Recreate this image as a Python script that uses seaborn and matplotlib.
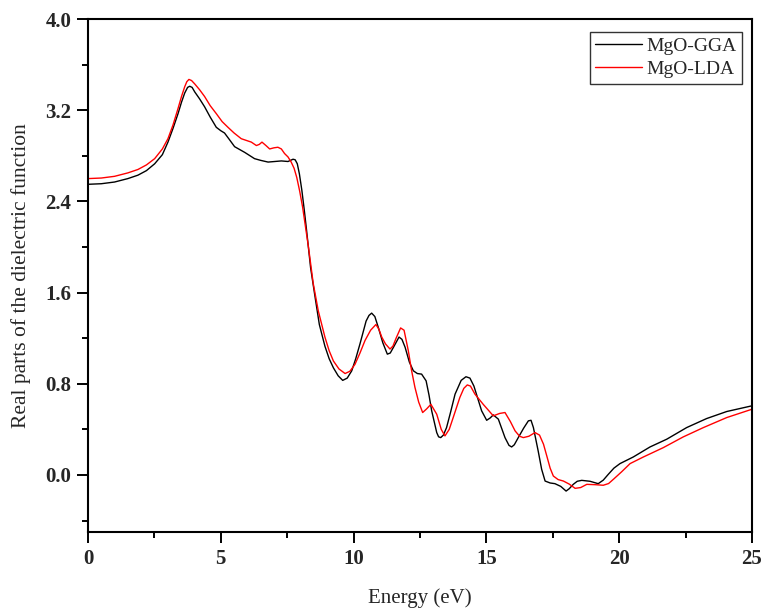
import matplotlib
matplotlib.use("Agg")
import matplotlib.pyplot as plt
import seaborn as sns
import pandas as pd
from matplotlib.ticker import MultipleLocator

# ---- data ----
gga_energy = [0, 0.5, 1.0, 1.5, 1.88, 2.2, 2.51, 2.8, 3.01, 3.2, 3.39, 3.52, 3.64, 3.75, 3.83,
              3.92, 4.02, 4.2, 4.39, 4.6, 4.83, 5.0, 5.14, 5.3, 5.52, 5.9, 6.27, 6.5, 6.78, 7.03,
              7.28, 7.53, 7.72, 7.8, 7.88, 7.96, 8.05, 8.14, 8.23, 8.38, 8.55, 8.71, 8.92, 9.08,
              9.24, 9.42, 9.59, 9.76, 9.93, 10.08, 10.24, 10.47, 10.58, 10.68, 10.8, 10.93,
              11.1, 11.27, 11.38, 11.5, 11.71, 11.82, 11.94, 12.1, 12.25, 12.4, 12.56, 12.73,
              12.84, 12.94, 13.13, 13.2, 13.28, 13.38, 13.5, 13.65, 13.82, 14.05, 14.23,
              14.38, 14.53, 14.82, 15.01, 15.14, 15.26, 15.45, 15.7, 15.85, 15.95, 16.05, 16.2,
              16.4, 16.58, 16.68, 16.77, 16.95, 17.08, 17.21, 17.4, 17.58, 17.8, 18.0, 18.12,
              18.27, 18.42, 18.59, 18.9, 19.21, 19.4, 19.59, 19.8, 20.03, 20.53, 21.16, 21.79,
              22.54, 23.29, 24.05, 25.0]
gga_eps = [2.55, 2.555, 2.57, 2.6, 2.63, 2.67, 2.73, 2.81, 2.92, 3.04, 3.17, 3.27, 3.35, 3.4,
           3.41, 3.4, 3.36, 3.3, 3.23, 3.14, 3.05, 3.02, 3.0, 2.95, 2.88, 2.83, 2.775, 2.76,
           2.745, 2.75, 2.755, 2.75, 2.77, 2.765, 2.73, 2.64, 2.5, 2.33, 2.145, 1.82, 1.56,
           1.32, 1.13, 1.02, 0.94, 0.87, 0.83, 0.85, 0.914, 1.02, 1.15, 1.35, 1.4, 1.42, 1.39,
           1.295, 1.16, 1.06, 1.07, 1.12, 1.21, 1.19, 1.12, 0.99, 0.914, 0.89, 0.885, 0.826,
           0.7, 0.563, 0.372, 0.335, 0.328, 0.35, 0.416, 0.55, 0.709, 0.83, 0.862, 0.85, 0.78,
           0.563, 0.48, 0.5, 0.527, 0.49, 0.328, 0.26, 0.246, 0.265, 0.328, 0.41, 0.475,
           0.48, 0.416, 0.21, 0.05, -0.053, -0.07, -0.076, -0.1, -0.141, -0.12, -0.082,
           -0.055, -0.047, -0.055, -0.076, -0.045, 0.006, 0.06, 0.1, 0.158, 0.246, 0.314,
           0.416, 0.495, 0.557, 0.607]

lda_energy = [0, 0.5, 1.0, 1.5, 1.88, 2.2, 2.51, 2.8, 3.01, 3.2, 3.39, 3.52, 3.64, 3.72, 3.8,
              3.9, 4.02, 4.2, 4.39, 4.6, 4.83, 5.05, 5.27, 5.5, 5.77, 6.15, 6.34, 6.45, 6.55,
              6.7, 6.84, 7.0, 7.15, 7.28, 7.4, 7.53, 7.65, 7.76, 7.86, 7.97, 8.08, 8.3, 8.48,
              8.67, 8.92, 9.08, 9.24, 9.45, 9.68, 9.86, 10.05, 10.24, 10.43, 10.64, 10.84,
              10.95, 11.06, 11.2, 11.37, 11.48, 11.6, 11.77, 11.9, 12.06, 12.18, 12.31, 12.45,
              12.6, 12.75, 12.91, 13.13, 13.3, 13.44, 13.6, 13.75, 14.0, 14.15, 14.28, 14.4,
              14.57, 14.88, 15.26, 15.5, 15.7, 15.9, 16.08, 16.25, 16.39, 16.6, 16.83, 17.0,
              17.15, 17.27, 17.4, 17.52, 17.7, 17.9, 18.12, 18.34, 18.55, 18.78, 19.1, 19.4,
              19.6, 19.78, 20.1, 20.41, 20.91, 21.66, 22.41, 23.17, 24.05, 25.0]
lda_eps = [2.6, 2.605, 2.62, 2.65, 2.68, 2.72, 2.775, 2.86, 2.95, 3.07, 3.215, 3.32, 3.405,
           3.45, 3.47, 3.46, 3.43, 3.38, 3.32, 3.24, 3.17, 3.1, 3.05, 3.0, 2.95, 2.92, 2.89,
           2.9, 2.92, 2.89, 2.86, 2.87, 2.875, 2.86, 2.82, 2.79, 2.745, 2.69, 2.61, 2.49,
           2.35, 2.0, 1.68, 1.44, 1.21, 1.09, 1.0, 0.93, 0.89, 0.91, 0.97, 1.07, 1.18, 1.27,
           1.32, 1.28, 1.21, 1.15, 1.105, 1.13, 1.2, 1.29, 1.27, 1.09, 0.92, 0.768, 0.64,
           0.548, 0.58, 0.62, 0.533, 0.4, 0.343, 0.4, 0.504, 0.68, 0.76, 0.79, 0.78, 0.709,
           0.62, 0.519, 0.54, 0.548, 0.47, 0.387, 0.34, 0.328, 0.34, 0.372, 0.35, 0.27, 0.17,
           0.06, -0.009, -0.04, -0.053, -0.08, -0.117, -0.11, -0.082, -0.085, -0.09, -0.075,
           -0.038, 0.03, 0.1, 0.158, 0.24, 0.334, 0.416, 0.504, 0.577]

series_names = ["MgO-GGA", "MgO-LDA"]
series_colors = ["black", "red"]
x_ticks = [0, 5, 10, 15, 20, 25]
y_ticks = [0.0, 0.8, 1.6, 2.4, 3.2, 4.0]

df = pd.concat([
    pd.DataFrame({"Energy": gga_energy, "eps": gga_eps, "series": series_names[0]}),
    pd.DataFrame({"Energy": lda_energy, "eps": lda_eps, "series": series_names[1]}),
], ignore_index=True)

sns.set_style("ticks")
plt.rcParams["font.family"] = ["Liberation Serif", "DejaVu Serif"]

fig = plt.figure(figsize=(7.64, 6.15), dpi=100)
ax = fig.add_axes([88 / 764, (615 - 532) / 615, (752 - 88) / 764, (532 - 19) / 615])

sns.lineplot(data=df, x="Energy", y="eps", hue="series", hue_order=series_names,
             palette=dict(zip(series_names, series_colors)), linewidth=1.0,
             sort=False, estimator=None, ax=ax)

ax.set_xlim(0, 25)
ax.set_ylim(-0.5, 4.0)
ax.set_xticks(x_ticks)
ax.set_xticklabels([f"{t:d}" for t in x_ticks])
ax.set_yticks(y_ticks)
ax.set_yticklabels([f"{t:.1f}" for t in y_ticks])
ax.xaxis.set_minor_locator(MultipleLocator(2.5))
ax.yaxis.set_minor_locator(MultipleLocator(0.4))

for s in ax.spines.values():
    s.set_visible(True)
    s.set_linewidth(1.5)
    s.set_color("black")

ax.tick_params(which="major", direction="out", length=8, width=1.4, color="black",
               top=False, right=False, labelsize=15, pad=4)
ax.tick_params(which="minor", direction="out", length=4.5, width=1.4, color="black",
               top=False, right=False)
for lab in ax.get_xticklabels() + ax.get_yticklabels():
    lab.set_fontweight("bold")

ax.set_xlabel("Energy (eV)", fontsize=15, labelpad=14)
ax.set_ylabel("Real parts of the dielectric function", fontsize=15.5, labelpad=10)

leg = ax.legend(loc="upper right", bbox_to_anchor=(0.985, 0.975), borderaxespad=0,
                fontsize=14, frameon=True, fancybox=False, handlelength=2.4,
                handletextpad=0.2, labelspacing=0.25, borderpad=0.3, title=None)
leg.get_frame().set_edgecolor("black")
leg.get_frame().set_linewidth(1.0)
for line in leg.get_lines():
    line.set_linewidth(1.0)

fig.savefig("out.png", dpi=100)
